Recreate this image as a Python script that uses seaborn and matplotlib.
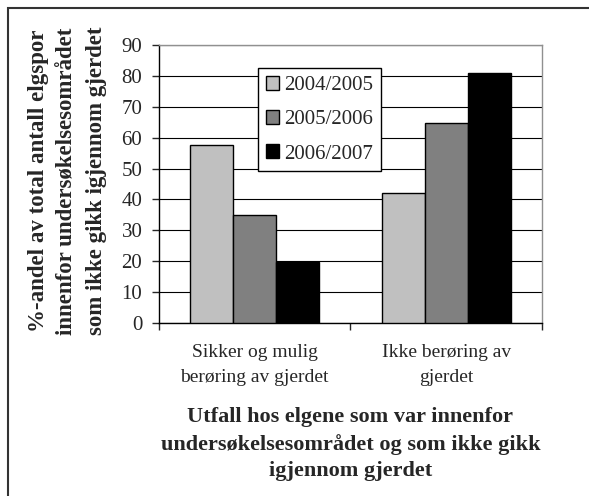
import pandas as pd
import matplotlib.pyplot as plt
import seaborn as sb
from matplotlib.patches import Rectangle
from matplotlib.ticker import MultipleLocator, FixedLocator

categories = ['Sikker og mulig\nberøring av gjerdet', 'Ikke berøring av\ngjerdet']
seasons = ['2004/2005', '2005/2006', '2006/2007']
values_2004 = [57.8, 42.0]
values_2005 = [35.0, 64.7]
values_2006 = [19.6, 81.1]

data = pd.DataFrame({
    'category': categories * 3,
    'season': [seasons[0]] * 2 + [seasons[1]] * 2 + [seasons[2]] * 2,
    'value': values_2004 + values_2005 + values_2006,
})

sb.set_style('white')
plt.rcParams['font.family'] = ['Liberation Serif', 'DejaVu Serif']

fig = plt.figure(figsize=(5.89, 4.96), dpi=100)
ax = fig.add_axes([0.270, 0.349, 0.650, 0.560])

sb.barplot(data=data, x='category', y='value', hue='season',
           palette=['#c0c0c0', '#808080', '#000000'], width=0.675, gap=0,
           edgecolor='black', linewidth=1.0, saturation=1, ax=ax, zorder=3)

ax.set_xlim(-0.5, 1.5)
ax.set_ylim(0, 90)
ax.yaxis.set_major_locator(MultipleLocator(10))
ax.grid(axis='y', color='black', linewidth=0.8, zorder=0)
ax.set_axisbelow(True)

ax.spines['left'].set_color('black')
ax.spines['bottom'].set_color('black')
ax.spines['top'].set_color('#909090')
ax.spines['right'].set_color('#909090')
for s in ax.spines.values():
    s.set_linewidth(1.0)

ax.tick_params(axis='y', which='major', length=5, width=1, direction='out', pad=7,
               labelsize=15, left=True)
ax.xaxis.set_minor_locator(FixedLocator([-0.5, 0.5, 1.5]))
ax.tick_params(axis='x', which='major', length=0, pad=15, labelsize=14)
ax.tick_params(axis='x', which='minor', length=5, width=1, direction='out', bottom=True)
for t in ax.get_xticklabels():
    t.set_linespacing(1.62)

ax.set_ylabel('%-andel av total antall elgspor\ninnenfor undersøkelsesområdet\nsom ikke gikk igjennom gjerdet',
              fontsize=16.5, fontweight='bold', linespacing=1.5)
ax.yaxis.set_label_coords(-0.136, 0.51)
ax.set_xlabel('Utfall hos elgene som var innenfor\nundersøkelsesområdet og som ikke gikk\nigjennom gjerdet',
              fontsize=16, fontweight='bold', linespacing=1.43)
ax.xaxis.set_label_coords(0.5, -0.302)

leg = ax.legend(loc='upper left', bbox_to_anchor=(0.2585, 0.917), fontsize=15, frameon=True,
                fancybox=False, edgecolor='black', framealpha=1, handlelength=0.63,
                handleheight=0.63, handletextpad=0.25, labelspacing=0.72, borderpad=0.38,
                borderaxespad=0, title=None)
leg.get_frame().set_linewidth(1.0)
for h in leg.legend_handles:
    h.set_edgecolor('black')
    h.set_linewidth(1.0)

fig.patches.append(Rectangle((8 / 589, -0.1), 1.2, 1.1 - 8 / 496, transform=fig.transFigure,
                             fill=False, edgecolor='#333333', linewidth=1.5))

plt.savefig('out.png', dpi=100)
